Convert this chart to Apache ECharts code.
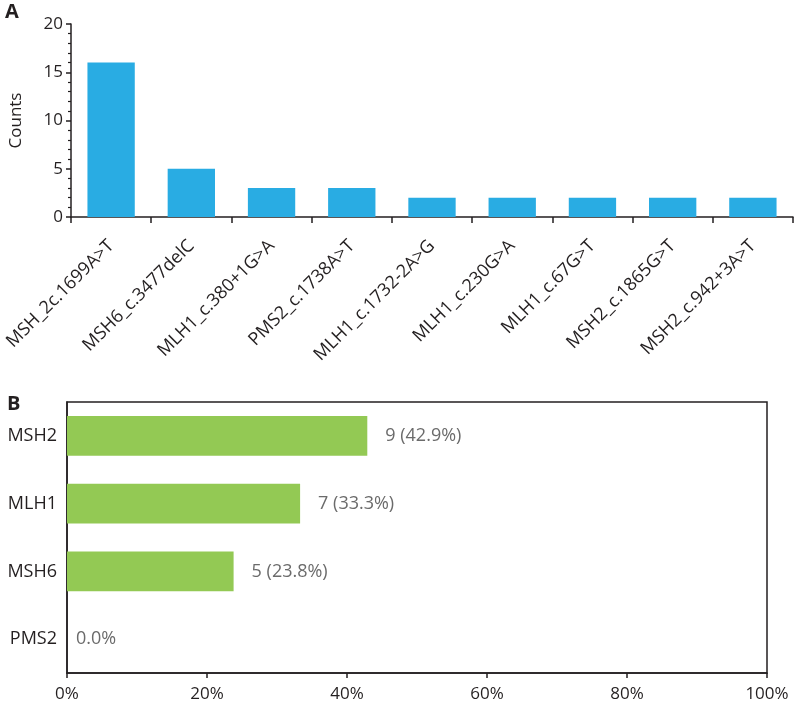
<!DOCTYPE html>
<html>
<head>
<meta charset="utf-8">
<script src="https://cdn.jsdelivr.net/npm/echarts@6/dist/echarts.min.js"></script>
<style>
html,body{margin:0;padding:0;background:#fff;}
#c{width:795px;height:703px;}
</style>
</head>
<body>
<div id="c"></div>
<script>
const variantLabels = ['MSH_2c.1699A>T','MSH6_c.3477delC','MLH1_c.380+1G>A','PMS2_c.1738A>T','MLH1_c.1732-2A>G','MLH1_c.230G>A','MLH1_c.67G>T','MSH2_c.1865G>T','MSH2_c.942+3A>T'];
const variantCounts = [16,5,3,3,2,2,2,2,2];
const geneLabels = ['MSH2','MLH1','MSH6','PMS2'];
const geneCounts = [9,7,5,0];
const genePercents = [42.9,33.3,23.8,0.0];
const countTicks = [0,5,10,15,20];
const pctTicks = [0,20,40,60,80,100];

const FONT = '"Open Sans", sans-serif';
const DARK = '#231f20';
const chart = echarts.init(document.getElementById('c'), null, {renderer:'canvas'});

const geneData = genePercents.map((p,i)=>{
  const d = {value:p};
  if (geneCounts[i]===0) d.label = {distance:9};
  return d;
});

chart.setOption({
  animation:false,
  textStyle:{fontFamily:FONT},
  title:[
    {text:'A',left:0,top:-3,textStyle:{fontFamily:FONT,fontSize:20,fontWeight:'bold',color:DARK}},
    {text:'B',left:2,top:389,textStyle:{fontFamily:FONT,fontSize:20,fontWeight:'bold',color:DARK}}
  ],
  grid:[
    {left:71,top:24,width:722,height:193},
    {left:67,top:402,width:700,height:273,show:true,borderColor:DARK,borderWidth:1.5,backgroundColor:'transparent'}
  ],
  xAxis:[
    {type:'category',gridIndex:0,data:variantLabels,
     axisLine:{lineStyle:{color:DARK,width:1.5}},
     axisTick:{show:true,length:6,lineStyle:{color:DARK,width:1.5}},
     axisLabel:{rotate:45,margin:26,fontSize:18,color:DARK,fontFamily:FONT,interval:0}},
    {type:'value',gridIndex:1,min:pctTicks[0],max:pctTicks[pctTicks.length-1],interval:20,
     splitLine:{show:false},
     axisLine:{show:true,lineStyle:{color:DARK,width:1.5}},
     axisTick:{show:true,length:5,lineStyle:{color:DARK,width:1.5}},
     axisLabel:{margin:13,fontSize:17,color:DARK,fontFamily:FONT,formatter:v=>v+'%'}}
  ],
  yAxis:[
    {type:'value',gridIndex:0,min:countTicks[0],max:countTicks[countTicks.length-1],interval:5,
     name:'Counts',nameLocation:'middle',nameGap:46,
     nameTextStyle:{fontSize:17,color:DARK,fontFamily:FONT},
     splitLine:{show:false},
     axisLine:{show:true,lineStyle:{color:DARK,width:1.5}},
     axisTick:{show:true,length:5,lineStyle:{color:DARK,width:1.5}},
     minorTick:{show:true,splitNumber:5,length:3,lineStyle:{color:DARK,width:1.2}},
     axisLabel:{margin:8,fontSize:17,color:DARK,fontFamily:FONT}},
    {type:'category',gridIndex:1,data:geneLabels,inverse:true,
     axisLine:{show:true,lineStyle:{color:DARK,width:1.5}},
     axisTick:{show:false},
     axisLabel:{margin:10,fontSize:18,color:DARK,fontFamily:FONT}}
  ],
  series:[
    {type:'bar',xAxisIndex:0,yAxisIndex:0,data:variantCounts,barWidth:'59%',
     itemStyle:{color:'#29ace3'}},
    {type:'bar',xAxisIndex:1,yAxisIndex:1,data:geneData,barWidth:'58.5%',
     itemStyle:{color:'#93c954'},
     label:{show:true,position:'right',distance:18,fontSize:18,color:'#6b6b6b',fontFamily:FONT,
       formatter:p=>{const c=geneCounts[p.dataIndex];const s=genePercents[p.dataIndex].toFixed(1)+'%';return c>0?c+' ('+s+')':s;}}}
  ]
});
</script>
</body>
</html>
